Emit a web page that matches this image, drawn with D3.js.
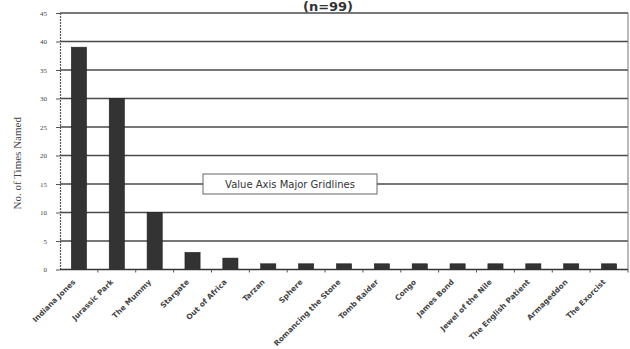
<!DOCTYPE html>
<html>
<head>
<meta charset="utf-8">
<script src="https://cdn.jsdelivr.net/npm/d3@7"></script>
<style>
  html, body { margin: 0; padding: 0; background: #fff; }
  svg { display: block; }
</style>
</head>
<body>
<svg id="chart" width="630" height="349"></svg>
<script>
// Films named, and how many times each one was named
const films = [
  "Indiana Jones", "Jurassic Park", "The Mummy", "Stargate", "Out of Africa",
  "Tarzan", "Sphere", "Romancing the Stone", "Tomb Raider", "Congo",
  "James Bond", "Jewel of the Nile", "The English Patient", "Armageddon", "The Exorcist"
];
const timesNamed = [39, 30, 10, 3, 2, 1, 1, 1, 1, 1, 1, 1, 1, 1, 1];
const yTicks = [0, 5, 10, 15, 20, 25, 30, 35, 40, 45];

const svg = d3.select("#chart");
const m = { left: 60, right: 2, top: 13, bottom: 79.5 };
const W = 630, H = 349;

const x = d3.scaleBand().domain(films).range([m.left, W - m.right]).padding(0);
const y = d3.scaleLinear().domain([0, 45]).range([H - m.bottom, m.top]);

// horizontal gridlines
svg.append("g").selectAll("line").data(yTicks.filter(d => d > 0)).join("line")
  .attr("x1", m.left).attr("x2", W - m.right)
  .attr("y1", d => y(d)).attr("y2", d => y(d))
  .attr("stroke", "#4a4a4a").attr("stroke-width", 1.4);

// right border of the plot area
svg.append("line")
  .attr("x1", W - m.right).attr("x2", W - m.right)
  .attr("y1", y(45)).attr("y2", y(0))
  .attr("stroke", "#777").attr("stroke-width", 1);

// bars: each bar takes 40% of its category slot
const barW = x.bandwidth() * 0.4;
svg.append("g").selectAll("rect").data(films).join("rect")
  .attr("x", (d) => x(d) + (x.bandwidth() - barW) / 2)
  .attr("y", (d, i) => y(timesNamed[i]))
  .attr("width", barW)
  .attr("height", (d, i) => y(0) - y(timesNamed[i]))
  .attr("fill", "#333")
  .attr("stroke", "#222").attr("stroke-width", 0.6);

// y axis
const yAxis = svg.append("g")
  .attr("transform", `translate(${m.left},0)`)
  .call(d3.axisLeft(y).tickValues(yTicks).tickSize(4).tickSizeOuter(0));
yAxis.select(".domain").attr("stroke", "#555").attr("stroke-width", 1.2).attr("stroke-dasharray", "2,1");
yAxis.selectAll(".tick line").attr("stroke", "#555");
yAxis.selectAll(".tick text")
  .attr("font-family", "Liberation Serif, serif").attr("font-size", 7)
  .attr("fill", "#444").attr("x", -13);

// x axis with ticks on category boundaries
const xAxisG = svg.append("g").attr("transform", `translate(0,${y(0)})`);
xAxisG.append("line")
  .attr("x1", m.left).attr("x2", W - m.right)
  .attr("stroke", "#333").attr("stroke-width", 1.6);
xAxisG.selectAll("line.tk").data(films).join("line").attr("class", "tk")
  .attr("x1", d => x(d) + x.bandwidth()).attr("x2", d => x(d) + x.bandwidth())
  .attr("y1", 0).attr("y2", 3)
  .attr("stroke", "#555");
xAxisG.selectAll("text").data(films).join("text")
  .attr("transform", d => `translate(${x(d) + x.bandwidth() / 2 - 3},${13}) rotate(-45)`)
  .attr("text-anchor", "end")
  .attr("font-family", "DejaVu Sans, sans-serif").attr("font-size", 7.5)
  .attr("font-weight", "bold")
  .attr("fill", "#444")
  .text(d => d);

// y axis title
svg.append("text")
  .attr("transform", `translate(21,${(y(0) + y(45)) / 2 + 22}) rotate(-90)`)
  .attr("text-anchor", "middle")
  .attr("font-family", "Liberation Serif, serif").attr("font-size", 11)
  .attr("fill", "#444")
  .text("No. of Times Named");

// chart title
svg.append("text")
  .attr("x", 328).attr("y", 11)
  .attr("text-anchor", "middle")
  .attr("font-family", "DejaVu Sans, sans-serif").attr("font-size", 13)
  .attr("font-weight", "bold").attr("fill", "#333")
  .text("(n=99)");

// gridline call-out label
const note = svg.append("g").attr("transform", `translate(203,${y(15) - 10})`);
note.append("rect")
  .attr("width", 174).attr("height", 20)
  .attr("fill", "#fff").attr("stroke", "#666").attr("stroke-width", 1);
note.append("text")
  .attr("x", 87).attr("y", 14)
  .attr("text-anchor", "middle")
  .attr("font-family", "DejaVu Sans, sans-serif").attr("font-size", 10)
  .attr("fill", "#333")
  .text("Value Axis Major Gridlines");
</script>
</body>
</html>
